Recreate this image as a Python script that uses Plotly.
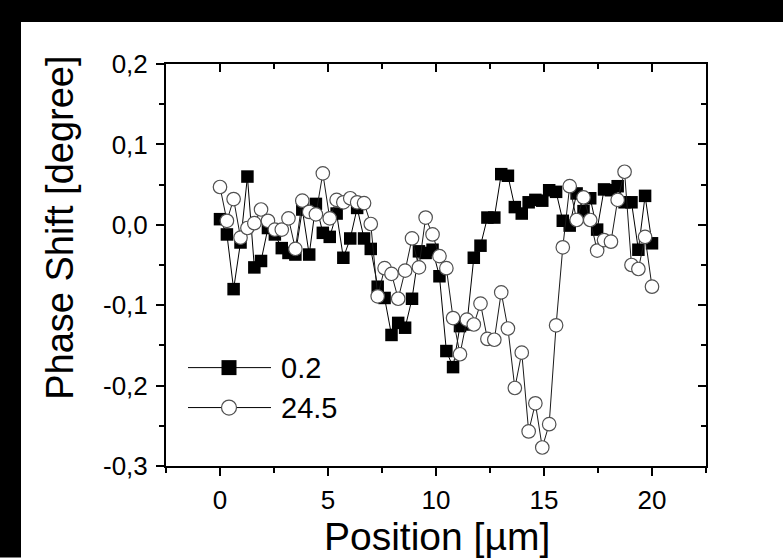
import plotly.graph_objects as go

# ---------------- data ----------------
position = [0.00, 0.32, 0.63, 0.95, 1.27, 1.59, 1.90, 2.22, 2.54, 2.86,
            3.17, 3.49, 3.81, 4.13, 4.44, 4.76, 5.08, 5.40, 5.71, 6.03,
            6.35, 6.67, 6.98, 7.30, 7.62, 7.94, 8.25, 8.57, 8.89, 9.21,
            9.52, 9.84, 10.16, 10.48, 10.79, 11.11, 11.43, 11.75, 12.06, 12.38,
            12.70, 13.02, 13.33, 13.65, 13.97, 14.29, 14.60, 14.92, 15.24, 15.56,
            15.87, 16.19, 16.51, 16.83, 17.14, 17.46, 17.78, 18.10, 18.41, 18.73,
            19.05, 19.37, 19.68, 20.00]

phase_02 = [0.007, -0.012, -0.080, -0.022, 0.060, -0.053, -0.045, -0.004, -0.012, -0.029,
            -0.035, -0.037, 0.019, -0.037, 0.026, -0.010, -0.015, 0.014, -0.041, -0.017,
            0.021, -0.017, -0.030, -0.077, -0.091, -0.137, -0.122, -0.128, -0.092, -0.033,
            -0.035, -0.031, -0.064, -0.157, -0.177, -0.126, -0.124, -0.041, -0.026, 0.009,
            0.009, 0.063, 0.061, 0.022, 0.014, 0.028, 0.031, 0.030, 0.043, 0.041,
            0.005, -0.001, 0.039, 0.017, 0.033, -0.006, 0.044, 0.043, 0.048, 0.028,
            0.028, -0.031, 0.036, -0.023]

phase_245 = [0.047, 0.005, 0.032, -0.016, -0.004, 0.002, 0.019, 0.005, -0.006, -0.006,
             0.008, -0.030, 0.030, 0.016, 0.013, 0.064, 0.008, 0.031, 0.028, 0.033,
             0.028, 0.027, 0.001, -0.089, -0.054, -0.061, -0.092, -0.057, -0.017, -0.053,
             0.009, -0.012, -0.039, -0.054, -0.116, -0.161, -0.118, -0.124, -0.098, -0.142,
             -0.143, -0.084, -0.129, -0.203, -0.159, -0.257, -0.222, -0.277, -0.248, -0.125,
             -0.028, 0.048, 0.006, 0.034, 0.006, -0.032, -0.019, -0.021, 0.031, 0.066,
             -0.050, -0.055, -0.015, -0.077]

series_names = ["0.2", "24.5"]

x_tick_vals = [0, 5, 10, 15, 20]
x_tick_text = ["0", "5", "10", "15", "20"]
x_minor_vals = [-2.5, 2.5, 7.5, 12.5, 17.5, 22.5]
y_tick_vals = [0.2, 0.1, 0.0, -0.1, -0.2, -0.3]
y_tick_text = ["0,2", "0,1", "0,0", "-0,1", "-0,2", "-0,3"]
y_minor_vals = [0.15, 0.05, -0.05, -0.15, -0.25]

x_title = "Position [µm]"
y_title = "Phase Shift [degree]"

# ---------------- layout geometry ----------------
W, H = 783, 558
L, R, T, B = 166, 77, 64, 91.5
PW, PH = W - L - R, H - T - B
FONT = "Liberation Sans, Arial, sans-serif"


def px_x(p):
    return (p - L) / PW


def px_y(p):
    return (H - B - p) / PH


fig = go.Figure()
fig.add_trace(go.Scatter(
    x=position, y=phase_02, mode="lines+markers", name=series_names[0],
    line=dict(color="black", width=1),
    marker=dict(symbol="square", size=12.5, color="black"),
    showlegend=False))
fig.add_trace(go.Scatter(
    x=position, y=phase_245, mode="lines+markers", name=series_names[1],
    line=dict(color="#1a1a1a", width=1),
    marker=dict(symbol="circle", size=13.5, color="white",
                line=dict(color="#505050", width=1.2)),
    showlegend=False))

tickfont = dict(family=FONT, size=26, color="black")
common = dict(showgrid=False, zeroline=False, showline=True, linewidth=2,
              linecolor="black", tickwidth=2, tickcolor="black")

fig.update_layout(
    width=W, height=H,
    margin=dict(l=L, r=R, t=T, b=B),
    paper_bgcolor="white", plot_bgcolor="white",
    font=dict(family=FONT, color="black"),
    showlegend=False,
    xaxis=dict(range=[-2.5, 22.5], tickmode="array", tickvals=x_tick_vals,
               ticktext=x_tick_text, ticks="outside", ticklen=8,
               tickfont=tickfont, ticklabelstandoff=2,
               minor=dict(tickmode="array", tickvals=x_minor_vals,
                          ticks="outside", ticklen=5, tickwidth=2,
                          tickcolor="black"),
               **common),
    yaxis=dict(range=[-0.3, 0.2], tickmode="array", tickvals=y_tick_vals,
               ticktext=y_tick_text, ticks="outside", ticklen=8,
               tickfont=tickfont, ticklabelstandoff=3,
               minor=dict(tickmode="array", tickvals=y_minor_vals,
                          ticks="outside", ticklen=5, tickwidth=2,
                          tickcolor="black"),
               **common),
    xaxis2=dict(range=[-2.5, 22.5], overlaying="x", side="top", anchor="y",
                tickmode="array", tickvals=x_tick_vals, ticks="inside",
                ticklen=8, showticklabels=False,
                minor=dict(tickmode="array", tickvals=x_minor_vals,
                           ticks="inside", ticklen=5, tickwidth=2,
                           tickcolor="black"),
                **common),
    yaxis2=dict(range=[-0.3, 0.2], overlaying="y", side="right", anchor="x",
                tickmode="array", tickvals=y_tick_vals, ticks="inside",
                ticklen=8, showticklabels=False,
                minor=dict(tickmode="array", tickvals=y_minor_vals,
                           ticks="inside", ticklen=5, tickwidth=2,
                           tickcolor="black"),
                **common),
)

# empty trace so the mirrored axes are drawn
fig.add_trace(go.Scatter(x=[], y=[], xaxis="x2", yaxis="y2", showlegend=False,
                         hoverinfo="skip"))

shapes = []
# black frame bands (left and top) of the original picture
shapes.append(dict(type="rect", xref="paper", yref="paper", layer="above",
                   x0=px_x(0), x1=px_x(21), y0=px_y(H), y1=px_y(0),
                   fillcolor="black", line=dict(width=0)))
shapes.append(dict(type="rect", xref="paper", yref="paper", layer="above",
                   x0=px_x(0), x1=px_x(W), y0=px_y(22), y1=px_y(0),
                   fillcolor="black", line=dict(width=0)))

# custom legend
leg_x0, leg_x1, leg_mx = 188, 271, 229
leg_rows = [368, 408]
for yy in leg_rows:
    shapes.append(dict(type="line", xref="paper", yref="paper",
                       x0=px_x(leg_x0), x1=px_x(leg_x1), y0=px_y(yy), y1=px_y(yy),
                       line=dict(color="black", width=1)))
s = 7.5
shapes.append(dict(type="rect", xref="paper", yref="paper",
                   x0=px_x(leg_mx - s), x1=px_x(leg_mx + s),
                   y0=px_y(leg_rows[0] + s), y1=px_y(leg_rows[0] - s),
                   fillcolor="black", line=dict(width=0)))
shapes.append(dict(type="circle", xref="paper", yref="paper",
                   x0=px_x(leg_mx - s), x1=px_x(leg_mx + s),
                   y0=px_y(leg_rows[1] + s), y1=px_y(leg_rows[1] - s),
                   fillcolor="white", line=dict(color="#505050", width=1.2)))
fig.update_layout(shapes=shapes)

annotations = []
for name, yy in zip(series_names, leg_rows):
    annotations.append(dict(text=name, xref="paper", yref="paper",
                            x=px_x(279), y=px_y(yy), xanchor="left",
                            yanchor="middle", showarrow=False,
                            font=dict(family=FONT, size=29, color="black")))
annotations.append(dict(text=x_title, xref="paper", yref="paper",
                        x=px_x(437), y=px_y(537), xanchor="center",
                        yanchor="middle", showarrow=False,
                        font=dict(family=FONT, size=39, color="black")))
annotations.append(dict(text=y_title, xref="paper", yref="paper",
                        x=px_x(60), y=px_y(228), xanchor="center",
                        yanchor="middle", textangle=-90, showarrow=False,
                        font=dict(family=FONT, size=38, color="black")))
fig.update_layout(annotations=annotations)

fig.write_html("out.html")
